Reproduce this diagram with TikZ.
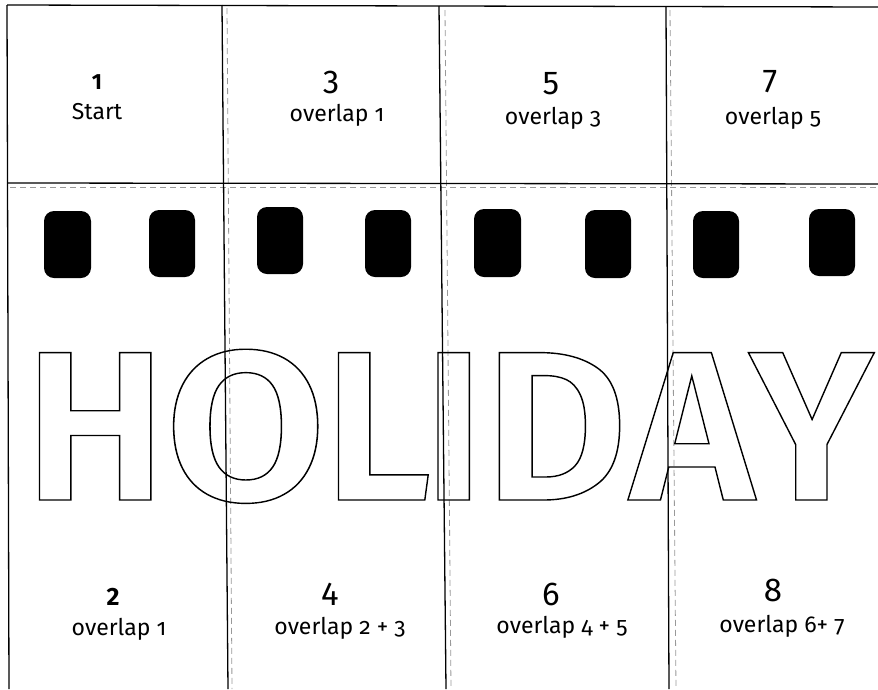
\documentclass[tikz,border=0pt]{standalone}
\usepackage{fontspec}
\setmainfont{Fira Sans}
\newfontfamily\osf{Fira Sans}[Numbers=OldStyle]
\IfFontExistsTF{Fira Sans SemiBold}
  {\newfontfamily\bigf{Fira Sans SemiBold}}
  {\IfFontExistsTF{Fira Sans Medium}
     {\newfontfamily\bigf{Fira Sans Medium}}
     {\newfontfamily\bigf{Fira Sans}[UprightFont=*-Bold]}}
\newcommand\outlinetext[1]{\special{pdf:literal direct 1 Tr 1.4 w}#1\special{pdf:literal direct 0 Tr}}
\newcommand\lbox[2]{\makebox[#1pt][c]{#2}}
\tikzset{
  solidline/.style={line width=1.3pt, black},
  dashline/.style={line width=0.8pt, black!40, dash pattern=on 6pt off 4pt},
  hole/.style={fill=black, rounded corners=10pt},
  bignum/.style={inner sep=0pt, font=\fontsize{33}{33}\selectfont},
  smallnum/.style={inner sep=0pt, font=\bfseries\fontsize{22}{22}\selectfont},
  lbl/.style={inner sep=0pt, font=\fontsize{23}{23}\selectfont},
}
\begin{document}
\begin{tikzpicture}[x=1pt, y=-1pt]
\useasboundingbox (0,0) rectangle (878,689);
\fill[white] (0,0) rectangle (878,689);
% dashed guide lines
\draw[dashline] (10,187) -- (878,187);
\draw[dashline] (227,8) -- (232,689);
\draw[dashline] (445,10) -- (451,689);
\draw[dashline] (670,10) -- (676,689);
% solid frame lines
\draw[solidline] (7,5) -- (9,689);
\draw[solidline] (7,5) -- (878,7);
\draw[solidline] (8,183) -- (878,184);
\draw[solidline] (222,5) -- (228,689);
\draw[solidline] (439,6) -- (446,689);
\draw[solidline] (666,7) -- (669,689);
% film holes
\fill[hole] (44,211) rectangle (91,278);
\fill[hole] (149,210) rectangle (195,277);
\fill[hole] (257,207) rectangle (303,274);
\fill[hole] (365,210) rectangle (411,277);
\fill[hole] (474,209) rectangle (521,277);
\fill[hole] (585,210) rectangle (631,278);
\fill[hole] (693,211) rectangle (739,278);
\fill[hole] (809,209) rectangle (855,276);
% top labels
\node[smallnum] (n1) at (97,82) {1};
\node[lbl] (t1) at (97,112) {Start};
\node[bignum] (n3) at (331,82) {3};
\node[lbl] (t3) at (337,115) {overlap {\osf 1}};
\node[bignum] (n5) at (551,84) {5};
\node[lbl] (t5) at (553,118) {overlap {\osf 3}};
\node[bignum] (n7) at (770,82) {7};
\node[lbl] (t7) at (773,118) {overlap {\osf 5}};
% bottom labels
\node[smallnum, font=\bfseries\fontsize{25}{25}\selectfont] (n2) at (113,597) {2};
\node[lbl] (t2) at (119,629) {overlap {\osf 1}};
\node[bignum] (n4) at (330,594) {4};
\node[lbl] (t4) at (340,628) {overlap {\osf 2 + 3}};
\node[bignum] (n6) at (551,594) {6};
\node[lbl] (t6) at (562,627) {overlap {\osf 4 + 5}};
\node[bignum] (n8) at (773,590) {8};
\node[lbl] (t8) at (782,626) {overlap {\osf 6+ 7}};
% big outlined word
\node[inner sep=0pt, anchor=base west, font=\bigf\fontsize{213}{213}\selectfont] (word) at (37,500)
  {\outlinetext{\lbox{116}{H}\lbox{185}{\scalebox{1.1}[1]{O}}\lbox{78}{L}\lbox{75}{I}\lbox{129}{\scalebox{1.05}[1]{D}}\lbox{144}{A}\lbox{94}{Y}}};
\end{tikzpicture}
\end{document}
